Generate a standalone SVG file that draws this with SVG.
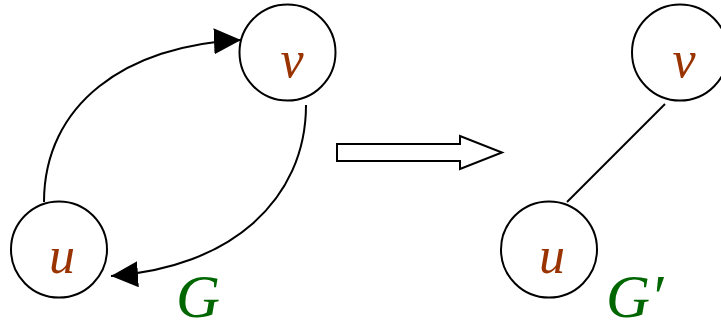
<svg xmlns="http://www.w3.org/2000/svg" width="721" height="324" viewBox="0 0 721 324">
<style>
.node{fill:#fff;stroke:#000;stroke-width:2}
.lbl{font-family:"Liberation Serif",serif;font-style:italic;font-size:52px;fill:#993300;text-anchor:middle}
.g{font-family:"Liberation Serif",serif;font-style:italic;font-size:61px;fill:#006600}
.edge{fill:none;stroke:#000;stroke-width:2}
</style>
<defs>
<marker id="ah" markerWidth="30" markerHeight="30" refX="27" refY="13" orient="auto" markerUnits="userSpaceOnUse">
<path d="M0,0 L27,13 L0,26 Z" fill="#000"/>
</marker>
</defs>
<g id="connectors">
<path class="edge" d="M44,202 C44,105 125,45 241,40" marker-end="url(#ah)"/>
<path class="edge" d="M306,105 C306,200 230,268 111,276" marker-end="url(#ah)"/>
<line class="edge" x1="665" y1="104" x2="567" y2="202"/>
</g>
<g id="transform-arrow">
<polygon points="337,144 460,144 460,136 502,152.5 460,169 460,161 337,161" fill="#fff" stroke="#000" stroke-width="2"/>
</g>
<g id="G-u">
<circle class="node" cx="59" cy="249.5" r="48"/>
<text class="lbl" x="62" y="273">u</text>
</g>
<g id="G-v">
<circle class="node" cx="287.5" cy="52.5" r="48"/>
<text class="lbl" x="292" y="77">v</text>
</g>
<g id="Gp-u">
<circle class="node" cx="549" cy="249.5" r="48"/>
<text class="lbl" x="552" y="273">u</text>
</g>
<g id="Gp-v">
<circle class="node" cx="680" cy="52.5" r="48"/>
<text class="lbl" x="684" y="77">v</text>
</g>
<text class="g" x="176" y="317">G</text>
<text class="g" x="606" y="317">G′</text>
</svg>
